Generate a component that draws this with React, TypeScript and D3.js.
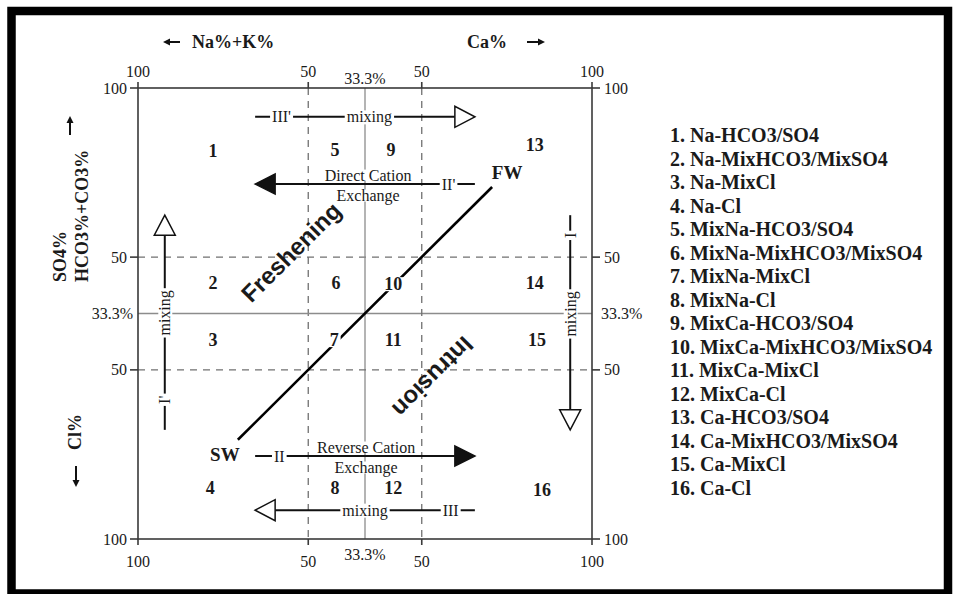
import React, { useEffect, useRef } from "react";
import * as d3 from "d3";

const SERIF = "'Liberation Serif', 'Times New Roman', serif";
const SANS = "'Liberation Sans', Arial, sans-serif";
const INK = "#1a1a1a";

// both axes run 0..100 across the square (0 = Na / HCO3 side, 100 = Ca / Cl side)
const tickPos = [0, 37.5, 50, 62.5, 100];
const tickLabels = ["100", "50", "33.3%", "50", "100"];

// facies numbers and where they sit in the square
const regionIds = ["1", "2", "3", "4", "5", "6", "7", "8", "9", "10", "11", "12", "13", "14", "15", "16"];
const regionX = [16.5, 16.5, 16.5, 15.9, 43.4, 43.6, 43.2, 43.4, 55.7, 56.2, 56.2, 56.2, 87.4, 87.4, 87.9, 89.0];
const regionY = [13.9, 43.2, 55.9, 88.7, 13.7, 43.2, 55.9, 88.7, 13.7, 43.5, 55.9, 88.7, 12.6, 43.2, 55.9, 89.1];

const legendItems = [
  "1. Na-HCO3/SO4",
  "2. Na-MixHCO3/MixSO4",
  "3. Na-MixCl",
  "4. Na-Cl",
  "5. MixNa-HCO3/SO4",
  "6. MixNa-MixHCO3/MixSO4",
  "7. MixNa-MixCl",
  "8. MixNa-Cl",
  "9. MixCa-HCO3/SO4",
  "10. MixCa-MixHCO3/MixSO4",
  "11. MixCa-MixCl",
  "12. MixCa-Cl",
  "13. Ca-HCO3/SO4",
  "14. Ca-MixHCO3/MixSO4",
  "15. Ca-MixCl",
  "16. Ca-Cl",
];

// process arrows
const arrowX1 = [25.8, 74.2, 25.8, 74.2, 5.9, 95.2];
const arrowY1 = [6.4, 21.3, 81.6, 93.6, 75.8, 28.2];
const arrowX2 = [74.2, 25.8, 74.2, 25.8, 5.9, 95.2];
const arrowY2 = [6.4, 21.3, 81.6, 93.6, 28.2, 75.8];
const arrowHeads = ["open", "filled", "filled", "open", "open", "open"];
const arrowMarks = ["III'", "II'", "II", "III", "I'", "I"];
const arrowMarkAt = [0.12, 0.12, 0.11, 0.11, 0.14, 0.094];
const arrowLabels = ["mixing", "Direct Cation|Exchange", "Reverse Cation|Exchange", "mixing", "mixing", "mixing"];
const arrowLabelAt = [0.52, 0.486, 0.505, 0.5, 0.545, 0.46];

// SW -> FW line
const lineX = [22.0, 78.0];
const lineY = [78.0, 21.95];

const App = () => {
  const ref = useRef<SVGSVGElement>(null);

  useEffect(() => {
    const svg = d3.select(ref.current);
    svg.selectAll("*").remove();

    const x = d3.scaleLinear().domain([0, 100]).range([138, 592]);
    const y = d3.scaleLinear().domain([0, 100]).range([88, 539]);

    // outer frame
    svg
      .append("rect")
      .attr("x", 11.5)
      .attr("y", 11)
      .attr("width", 936.5)
      .attr("height", 582.5)
      .attr("fill", "none")
      .attr("stroke", "#000")
      .attr("stroke-width", 8.5);

    const g = svg.append("g");

    // grid
    tickPos.forEach((p, i) => {
      if (i === 0 || i === tickPos.length - 1) return;
      const solid = tickLabels[i] === "33.3%";
      const style = (sel: any) =>
        sel
          .attr("stroke", solid ? "#8c8c8c" : "#707070")
          .attr("stroke-width", 1.3)
          .attr("stroke-dasharray", solid ? null : "7,6");
      g.append("line").attr("x1", x(p)).attr("x2", x(p)).attr("y1", y(0)).attr("y2", y(100)).call(style);
      g.append("line").attr("x1", x(0)).attr("x2", x(100)).attr("y1", y(p)).attr("y2", y(p)).call(style);
    });

    // box
    g.append("rect")
      .attr("x", x(0))
      .attr("y", y(0))
      .attr("width", x(100) - x(0))
      .attr("height", y(100) - y(0))
      .attr("fill", "none")
      .attr("stroke", "#3a3a3a")
      .attr("stroke-width", 1.6);

    // ticks + tick labels
    const tickText = (tx: number, ty: number, txt: string, anchor: string) =>
      g.append("text")
        .attr("x", tx)
        .attr("y", ty)
        .attr("text-anchor", anchor)
        .attr("dominant-baseline", "central")
        .attr("font-family", SERIF)
        .attr("font-size", 16)
        .attr("fill", INK)
        .text(txt);

    tickPos.forEach((p, i) => {
      const pct = tickLabels[i] === "33.3%";
      if (!pct) {
        const tk = (a: number, b: number, c: number, d: number) =>
          g.append("line").attr("x1", a).attr("y1", b).attr("x2", c).attr("y2", d).attr("stroke", "#3a3a3a").attr("stroke-width", 1.6);
        tk(x(p), y(0) - 6, x(p), y(0));
        tk(x(p), y(100), x(p), y(100) + 6);
        tk(x(0) - 8, y(p), x(0), y(p));
        tk(x(100), y(p), x(100) + 8, y(p));
      }
      tickText(x(p), pct ? 78 : 71, tickLabels[i], "middle");
      tickText(x(p), pct ? 554 : 561, tickLabels[i], "middle");
      tickText(pct ? 133 : 127, y(p), tickLabels[i], "end");
      tickText(pct ? 601 : 604, y(p), tickLabels[i], "start");
    });

    // label with white backing
    const bgLabel = (
      px: number,
      py: number,
      txt: string,
      size: number,
      weight: string,
      rot = 0,
      padX = 2,
      insetY = 3
    ) => {
      const lg = g.append("g").attr("transform", `translate(${px},${py}) rotate(${rot})`);
      const r = lg.append("rect").attr("fill", "#fff");
      const t = lg
        .append("text")
        .attr("text-anchor", "middle")
        .attr("dominant-baseline", "central")
        .attr("font-family", SERIF)
        .attr("font-size", size)
        .attr("font-weight", weight)
        .attr("fill", INK)
        .text(txt);
      const b = (t.node() as SVGTextElement).getBBox();
      r.attr("x", b.x - padX)
        .attr("y", b.y + insetY)
        .attr("width", b.width + 2 * padX)
        .attr("height", Math.max(0, b.height - 2 * insetY));
    };

    // SW-FW line
    g.append("line")
      .attr("x1", x(lineX[0]))
      .attr("y1", y(lineY[0]))
      .attr("x2", x(lineX[1]))
      .attr("y2", y(lineY[1]))
      .attr("stroke", "#000")
      .attr("stroke-width", 2.6);

    // arrows
    arrowHeads.forEach((head, i) => {
      const x1 = x(arrowX1[i]);
      const y1 = y(arrowY1[i]);
      const x2 = x(arrowX2[i]);
      const y2 = y(arrowY2[i]);
      const len = Math.hypot(x2 - x1, y2 - y1);
      const ux = (x2 - x1) / len;
      const uy = (y2 - y1) / len;
      const hl = 20;
      const hw = head === "open" ? 10.5 : 10;
      const bx = x2 - ux * hl;
      const by = y2 - uy * hl;
      g.append("line")
        .attr("x1", x1)
        .attr("y1", y1)
        .attr("x2", bx)
        .attr("y2", by)
        .attr("stroke", "#111")
        .attr("stroke-width", 2);
      const p = d3.path();
      p.moveTo(x2, y2);
      p.lineTo(bx - uy * hw, by + ux * hw);
      p.lineTo(bx + uy * hw, by - ux * hw);
      p.closePath();
      g.append("path")
        .attr("d", p.toString())
        .attr("fill", head === "filled" ? "#111" : "#fff")
        .attr("stroke", "#111")
        .attr("stroke-width", 1.5);

      const vertical = Math.abs(uy) > 0.5;
      const rot = vertical ? -90 : 0;
      const mx = x1 + (x2 - x1) * arrowMarkAt[i];
      const my = y1 + (y2 - y1) * arrowMarkAt[i];
      bgLabel(mx, my, arrowMarks[i], 16, "normal", rot, 2, 2);

      const lx = x1 + (x2 - x1) * arrowLabelAt[i];
      const ly = y1 + (y2 - y1) * arrowLabelAt[i];
      const parts = arrowLabels[i].split("|");
      if (parts.length === 1) {
        bgLabel(lx, ly, parts[0], 16, "normal", rot, 2, 2);
      } else {
        bgLabel(lx, ly - 9, parts[0], 16, "normal", 0, 1, 3);
        bgLabel(lx, ly + 11, parts[1], 16, "normal", 0, 1, 3);
      }
    });

    // facies numbers
    regionIds.forEach((id, i) => {
      bgLabel(x(regionX[i]), y(regionY[i]), id, 18, "bold", 0, 2, 3);
    });

    // SW / FW
    [
      ["SW", x(lineX[0]) - 13, y(lineY[0]) + 15],
      ["FW", x(lineX[1]) + 15, y(lineY[1]) - 14],
    ].forEach(([txt, px, py]) => {
      g.append("text")
        .attr("x", px as number)
        .attr("y", py as number)
        .attr("text-anchor", "middle")
        .attr("dominant-baseline", "central")
        .attr("font-family", SERIF)
        .attr("font-size", 19)
        .attr("font-weight", "bold")
        .attr("fill", INK)
        .text(txt as string);
    });

    // Freshening / Intrusion
    [
      ["Freshening", 291, 252, -45],
      ["Intrusion", 433, 377, 135],
    ].forEach(([txt, px, py, rot]) => {
      g.append("text")
        .attr("transform", `translate(${px},${py}) rotate(${rot})`)
        .attr("text-anchor", "middle")
        .attr("dominant-baseline", "central")
        .attr("font-family", SANS)
        .attr("font-size", 24)
        .attr("font-weight", "bold")
        .attr("fill", INK)
        .text(txt as string);
    });

    // axis titles
    const title = (px: number, py: number, txt: string, anchor: string, rot = 0) =>
      g.append("text")
        .attr("transform", `translate(${px},${py}) rotate(${rot})`)
        .attr("text-anchor", anchor)
        .attr("dominant-baseline", "central")
        .attr("font-family", SERIF)
        .attr("font-size", 18)
        .attr("font-weight", "bold")
        .attr("fill", INK)
        .text(txt);
    title(192, 42, "Na%+K%", "start");
    title(467, 42, "Ca%", "start");
    title(60, 282, "SO4%", "start", -90);
    title(82, 282, "HCO3%+CO3%", "start", -90);
    title(75, 432, "Cl%", "middle", -90);

    const smallArrow = (ax: number, ay: number, bx: number, by: number) => {
      const len = Math.hypot(bx - ax, by - ay);
      const ux = (bx - ax) / len;
      const uy = (by - ay) / len;
      const hx = bx - ux * 7;
      const hy = by - uy * 7;
      g.append("line").attr("x1", ax).attr("y1", ay).attr("x2", hx).attr("y2", hy).attr("stroke", "#111").attr("stroke-width", 2);
      const p = d3.path();
      p.moveTo(bx, by);
      p.lineTo(hx - uy * 3.5, hy + ux * 3.5);
      p.lineTo(hx + uy * 3.5, hy - ux * 3.5);
      p.closePath();
      g.append("path").attr("d", p.toString()).attr("fill", "#111");
    };
    smallArrow(180, 42, 163, 42);
    smallArrow(527, 42, 545, 42);
    smallArrow(70, 135, 70, 116);
    smallArrow(76, 466, 76, 487);

    // legend
    legendItems.forEach((item, i) => {
      g.append("text")
        .attr("x", 670)
        .attr("y", 135 + i * 23.53)
        .attr("dominant-baseline", "central")
        .attr("font-family", SERIF)
        .attr("font-size", 20)
        .attr("font-weight", "bold")
        .attr("fill", INK)
        .text(item);
    });
  }, []);

  return (
    <svg
      ref={ref}
      width={955}
      height={594}
      style={{ position: "absolute", left: 0, top: 0, background: "#fff" }}
    ></svg>
  );
};

export default App;
